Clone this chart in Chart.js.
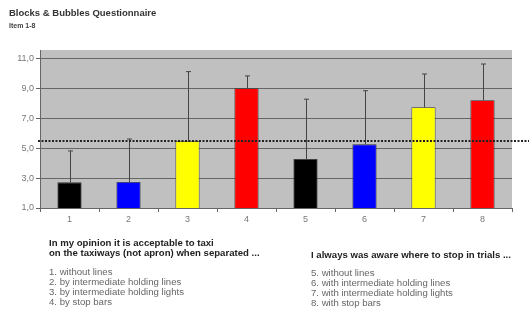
<!DOCTYPE html>
<html>
<head>
<meta charset="utf-8">
<script src="https://cdn.jsdelivr.net/npm/chart.js@4.4.1/dist/chart.umd.min.js"></script>
<style>
  html, body { margin: 0; padding: 0; background: #fff; }
  #wrap { position: relative; width: 529px; height: 314px; font-family: "Liberation Sans", Arial, sans-serif; }
  #chart { position: absolute; left: 0; top: 0; }
  .t { position: absolute; white-space: nowrap; line-height: 10px; }
  .h { font-weight: bold; color: #222; font-size: 9.6px; }
  .l { color: #666; font-size: 9.6px; }
</style>
</head>
<body>
<div id="wrap">
  <canvas id="chart" width="529" height="314"></canvas>
  <div class="t" style="left:9px;top:8px;font-weight:bold;font-size:9.5px;color:#333;">Blocks &amp; Bubbles Questionnaire</div>
  <div class="t" style="left:9px;top:21px;font-weight:bold;font-size:7px;color:#444;">Item 1-8</div>

  <div class="t h" style="left:49px;top:238px;">In my opinion it is acceptable to taxi<br>on the taxiways (not apron) when separated ...</div>
  <div class="t l" style="left:49px;top:267px;">1. without lines<br>2. by intermediate holding lines<br>3. by intermediate holding lights<br>4. by stop bars</div>

  <div class="t h" style="left:311px;top:250px;">I always was aware where to stop in trials ...</div>
  <div class="t l" style="left:311px;top:268px;">5. without lines<br>6. with intermediate holding lines<br>7. with intermediate holding lights<br>8. with stop bars</div>
</div>
<script>
    "use strict";

    // Data
    var categories = ['1', '2', '3', '4', '5', '6', '7', '8'];
    var means = [2.72, 2.75, 5.5, 9.03, 4.29, 5.27, 7.76, 8.23];
    var errorTops = [4.83, 5.63, 10.15, 9.86, 8.3, 8.87, 9.99, 10.66];
    var barColors = ['#000000', '#0000ff', '#ffff00', '#ff0000', '#000000', '#0000ff', '#ffff00', '#ff0000'];
    var yTicks = [1, 3, 5, 7, 9, 11];
    var refLine = 5.5;

    // Gray plot background
    var plotBackground = {
        id: 'plotBackground',
        beforeDraw: function (chart) {
            var a = chart.chartArea, ctx = chart.ctx;
            ctx.save();
            ctx.fillStyle = '#c0c0c0';
            ctx.fillRect(a.left, a.top, a.right - a.left, a.bottom - a.top);
            ctx.restore();
        }
    };

    // Upper error whiskers
    var errorBars = {
        id: 'errorBars',
        afterDatasetsDraw: function (chart) {
            var ctx = chart.ctx, y = chart.scales.y;
            var meta = chart.getDatasetMeta(0);
            ctx.save();
            ctx.strokeStyle = '#444';
            ctx.lineWidth = 1;
            meta.data.forEach(function (bar, i) {
                var x = Math.round(bar.x) + 0.5;
                var yTop = y.getPixelForValue(errorTops[i]);
                ctx.beginPath();
                ctx.moveTo(x, bar.y);
                ctx.lineTo(x, yTop);
                ctx.moveTo(x - 2.5, yTop);
                ctx.lineTo(x + 2.5, yTop);
                ctx.stroke();
            });
            ctx.restore();
        }
    };

    // Dotted reference line
    var refLinePlugin = {
        id: 'refLine',
        afterDraw: function (chart) {
            var ctx = chart.ctx, a = chart.chartArea;
            var yy = chart.scales.y.getPixelForValue(refLine);
            ctx.save();
            ctx.strokeStyle = '#222';
            ctx.lineWidth = 2;
            ctx.setLineDash([2, 1.5]);
            ctx.beginPath();
            ctx.moveTo(a.left - 2, yy);
            ctx.lineTo(chart.width, yy);
            ctx.stroke();
            ctx.restore();
        }
    };

    var ctx = document.getElementById('chart').getContext('2d');
    var chart = new Chart(ctx, {
        type: 'bar',
        data: {
            labels: categories,
            datasets: [{
                data: means,
                backgroundColor: barColors,
                borderColor: '#333',
                borderWidth: 0.8,
                barPercentage: 0.41,
                categoryPercentage: 1
            }]
        },
        options: {
            responsive: false,
            animation: false,
            layout: {
                padding: { top: 50, right: 17, bottom: 86, left: 0 }
            },
            plugins: {
                legend: { display: false },
                tooltip: { enabled: false },
                title: { display: false }
            },
            scales: {
                x: {
                    afterFit: function (scale) { scale.height = 20; },
                    grid: {
                        offset: true,
                        drawOnChartArea: false,
                        drawTicks: true,
                        tickLength: 4,
                        color: '#666'
                    },
                    border: { color: '#666', width: 1 },
                    ticks: {
                        color: '#777',
                        padding: 2,
                        font: { family: 'Liberation Sans', size: 9 }
                    }
                },
                y: {
                    min: 1,
                    max: 11.6,
                    afterFit: function (scale) { scale.width = 40; },
                    afterBuildTicks: function (axis) {
                        axis.ticks = yTicks.map(function (v) { return { value: v }; });
                    },
                    grid: {
                        color: '#666',
                        lineWidth: 1,
                        tickLength: 4
                    },
                    border: { color: '#666', width: 1 },
                    ticks: {
                        color: '#777',
                        padding: 2,
                        font: { family: 'Liberation Sans', size: 9 },
                        callback: function (value) {
                            return value.toFixed(1).replace('.', ',');
                        }
                    }
                }
            }
        },
        plugins: [plotBackground, errorBars, refLinePlugin]
    });
</script>
</body>
</html>
